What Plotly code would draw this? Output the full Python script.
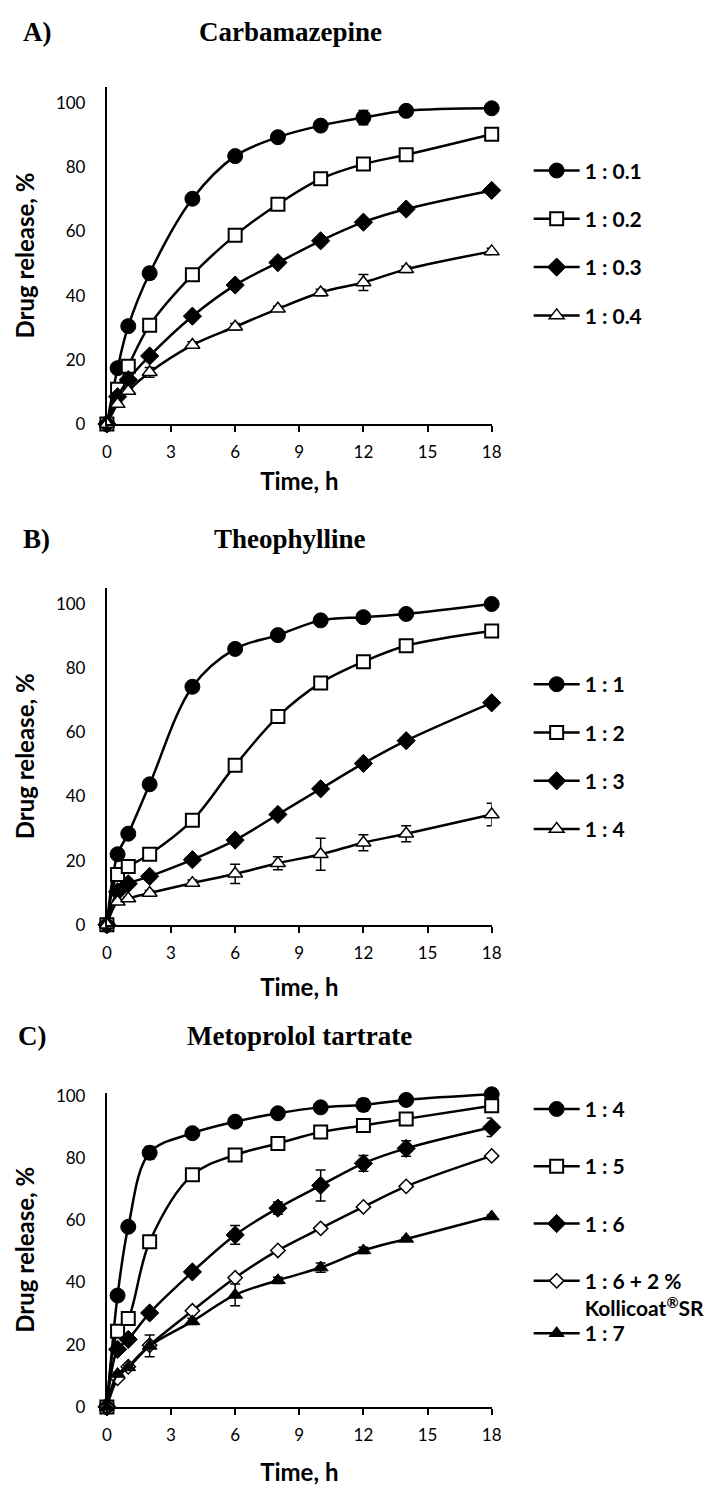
# ============================================================================
# DRUG RELEASE PROFILES - CARBAMAZEPINE / THEOPHYLLINE / METOPROLOL TARTRATE
# ============================================================================

import plotly.graph_objects as go
from plotly.subplots import make_subplots

# Sampling times (h)
time_h = [0, 0.5, 1, 2, 4, 6, 8, 10, 12, 14, 18]

# A) Carbamazepine
cbz_names = ['1 : 0.1', '1 : 0.2', '1 : 0.3', '1 : 0.4']
cbz_01 = [0, 17.4, 30.5, 47.0, 70.2, 83.5, 89.4, 93.0, 95.5, 97.6, 98.4]
cbz_02 = [0, 10.8, 18.0, 30.8, 46.5, 58.8, 68.5, 76.4, 81.0, 83.9, 90.3]
cbz_03 = [0, 8.5, 13.8, 21.2, 33.6, 43.3, 50.3, 57.1, 62.9, 67.0, 72.8]
cbz_04 = [0, 6.2, 10.3, 16.1, 24.6, 30.3, 35.9, 41.0, 44.1, 48.2, 53.8]
cbz_01_err = [0, 0.5, 0.5, 1.8, 0.6, 0.5, 0.5, 0.5, 2.2, 0.5, 0.5]
cbz_02_err = [0, 0.5, 0.5, 0.5, 0.5, 0.5, 0.5, 0.5, 0.5, 0.5, 0.5]
cbz_03_err = [0, 0.5, 0.5, 0.5, 0.5, 0.5, 0.5, 0.5, 0.8, 0.5, 0.5]
cbz_04_err = [0, 0.5, 0.8, 1.5, 1.0, 1.0, 0.8, 1.0, 2.5, 1.0, 1.0]

# B) Theophylline
the_names = ['1 : 1', '1 : 2', '1 : 3', '1 : 4']
the_1 = [0, 22.0, 28.4, 43.8, 74.2, 86.0, 90.3, 94.9, 95.9, 96.9, 100.0]
the_2 = [0, 15.7, 18.2, 22.0, 32.6, 49.7, 64.9, 75.4, 82.0, 87.0, 91.6]
the_3 = [0, 10.3, 12.8, 15.1, 20.3, 26.4, 34.4, 42.4, 50.3, 57.4, 69.2]
the_4 = [0, 7.2, 8.2, 9.9, 13.0, 15.9, 19.2, 22.0, 25.6, 28.4, 34.4]
the_1_err = [0, 0.5, 0.5, 0.5, 0.5, 0.5, 0.5, 0.5, 0.5, 0.5, 0.5]
the_2_err = [0, 0.5, 0.5, 0.5, 0.5, 0.5, 0.5, 0.5, 0.5, 0.5, 0.5]
the_3_err = [0, 0.5, 0.5, 0.5, 0.5, 0.5, 0.5, 0.5, 0.5, 0.5, 0.5]
the_4_err = [0, 0.5, 0.5, 0.8, 1.0, 3.0, 2.0, 5.0, 2.5, 2.5, 3.5]

# C) Metoprolol tartrate
met_names = ['1 : 4', '1 : 5', '1 : 6', '1 : 6 + 2 %<br>Kollicoat<sup>®</sup>SR', '1 : 7']
met_4 = [0, 35.8, 57.9, 81.7, 88.0, 91.7, 94.4, 96.3, 97.1, 98.7, 100.5]
met_5 = [0, 24.3, 28.4, 53.1, 74.6, 81.0, 84.7, 88.4, 90.5, 92.6, 96.8]
met_6 = [0, 18.5, 21.7, 30.2, 43.4, 55.3, 63.9, 71.2, 78.3, 83.1, 89.9]
met_6k = [0, 9.2, 12.9, 19.8, 30.9, 41.5, 50.3, 57.4, 64.3, 70.9, 80.7]
met_7 = [0, 10.6, 12.7, 19.6, 27.5, 36.0, 40.7, 44.8, 50.3, 54.0, 61.2]
met_4_err = [0, 0.5, 0.5, 2.0, 0.5, 0.5, 0.5, 0.5, 2.0, 0.5, 0.5]
met_5_err = [0, 0.5, 0.5, 0.5, 0.5, 0.5, 0.5, 0.5, 0.5, 0.5, 0.5]
met_6_err = [0, 0.5, 0.5, 0.8, 0.8, 3.0, 2.0, 5.0, 2.5, 2.5, 3.0]
met_6k_err = [0, 0.5, 0.5, 0.5, 0.5, 0.5, 0.5, 0.5, 0.5, 0.5, 0.5]
met_7_err = [0, 0.5, 0.5, 3.5, 1.0, 3.5, 1.0, 1.5, 1.0, 0.5, 0.5]

# ----------------------------------------------------------------------------
# Marker styles (Excel-like)
# ----------------------------------------------------------------------------
FILLED_CIRCLE = dict(symbol='circle', size=15, color='black', line=dict(color='black', width=1))
OPEN_SQUARE = dict(symbol='square', size=13, color='white', line=dict(color='black', width=2))
FILLED_DIAMOND = dict(symbol='diamond', size=14, color='black', line=dict(color='black', width=1))
OPEN_TRIANGLE = dict(symbol='triangle-up', size=13, color='white', line=dict(color='black', width=1.5))
OPEN_DIAMOND = dict(symbol='diamond', size=11, color='white', line=dict(color='black', width=1.5))
FILLED_TRIANGLE = dict(symbol='triangle-up', size=13, color='black', line=dict(color='black', width=1))

TICK_FONT = dict(family='Lato, Open Sans, sans-serif', size=17, color='black')
TITLE_FONT = dict(family='Lato, Open Sans, sans-serif', size=24, color='black')
LEGEND_FONT = dict(family='Lato, Open Sans, sans-serif', size=21, color='black')
HEAD_FONT = dict(family='Liberation Serif, Times New Roman, serif', size=27, color='black')

# page is 718 x 1497; the html body keeps an 8 px margin round the figure
PAGE_W, PAGE_H, PAD = 718, 1497, 8
W, H = PAGE_W - 2 * PAD, PAGE_H - 2 * PAD


def px_x(p):
    return (p - PAD) / W


def px_y(p):
    return 1 - (p - PAD) / H


fig = make_subplots(rows=3, cols=1)


def add_series(y, err, name, marker, row, legend):
    fig.add_trace(go.Scatter(
        x=time_h,
        y=y,
        mode='lines+markers',
        name='<b>' + name + '</b>',
        line=dict(color='black', width=2.5, shape='spline', smoothing=1),
        marker=marker,
        error_y=dict(type='data', array=err, color='black', thickness=1.5, width=5),
        legend=legend,
        legendgroup=name,
        cliponaxis=False,
    ), row=row, col=1)


# Panel A
add_series(cbz_01, cbz_01_err, cbz_names[0], FILLED_CIRCLE, 1, 'legend')
add_series(cbz_02, cbz_02_err, cbz_names[1], OPEN_SQUARE, 1, 'legend')
add_series(cbz_03, cbz_03_err, cbz_names[2], FILLED_DIAMOND, 1, 'legend')
add_series(cbz_04, cbz_04_err, cbz_names[3], OPEN_TRIANGLE, 1, 'legend')

# Panel B
add_series(the_1, the_1_err, the_names[0], FILLED_CIRCLE, 2, 'legend2')
add_series(the_2, the_2_err, the_names[1], OPEN_SQUARE, 2, 'legend2')
add_series(the_3, the_3_err, the_names[2], FILLED_DIAMOND, 2, 'legend2')
add_series(the_4, the_4_err, the_names[3], OPEN_TRIANGLE, 2, 'legend2')

# Panel C
add_series(met_4, met_4_err, met_names[0], FILLED_CIRCLE, 3, 'legend3')
add_series(met_5, met_5_err, met_names[1], OPEN_SQUARE, 3, 'legend3')
add_series(met_6, met_6_err, met_names[2], FILLED_DIAMOND, 3, 'legend3')
add_series(met_6k, met_6k_err, met_names[3], OPEN_DIAMOND, 3, 'legend3')
add_series(met_7, met_7_err, met_names[4], FILLED_TRIANGLE, 3, 'legend4')

# ----------------------------------------------------------------------------
# Axes
# ----------------------------------------------------------------------------
x_dom = [px_x(104.5), px_x(500)]
y_doms = [
    [px_y(421), px_y(80)],
    [px_y(928), px_y(587)],
    [px_y(1416), px_y(1098)],
]
y_ranges = [[0, 105], [0, 105], [0, 101]]
x_standoff = [12, 17, 20]

for i in range(3):
    fig.update_xaxes(
        domain=x_dom, range=[0, 18], tickmode='array', tickvals=[0, 3, 6, 9, 12, 15, 18],
        showline=True, linecolor='black', linewidth=2, showgrid=False, zeroline=False,
        ticks='outside', ticklen=6, tickwidth=2, tickcolor='black',
        tickfont=TICK_FONT, ticklabelstandoff=6,
        title=dict(text='<b>Time, h</b>', font=TITLE_FONT, standoff=x_standoff[i]),
        row=i + 1, col=1)
    fig.update_yaxes(
        domain=y_doms[i], range=y_ranges[i], tickmode='array', tickvals=[0, 20, 40, 60, 80, 100],
        showline=True, linecolor='black', linewidth=2, showgrid=False, zeroline=False,
        ticks='', tickfont=TICK_FONT, ticklabelstandoff=16,
        title=dict(text='<b>Drug release, %</b>', font=TITLE_FONT, standoff=14),
        row=i + 1, col=1)

# ----------------------------------------------------------------------------
# Panel headings
# ----------------------------------------------------------------------------
headings = [('A)', 'Carbamazepine', 24, 293, 16),
            ('B)', 'Theophylline', 537, 293, 16),
            ('C)', 'Metoprolol tartrate', 1041, 302, 11)]
for tag, name, py, cx, lx in headings:
    fig.add_annotation(text='<b>' + tag + '</b>', x=px_x(lx), y=px_y(py), xref='paper', yref='paper',
                       xanchor='left', yanchor='middle', showarrow=False, font=HEAD_FONT)
    fig.add_annotation(text='<b>' + name + '</b>', x=px_x(cx), y=px_y(py), xref='paper', yref='paper',
                       xanchor='center', yanchor='middle', showarrow=False, font=HEAD_FONT)


# ----------------------------------------------------------------------------
# Legends
# ----------------------------------------------------------------------------
def legend_box(top_px, gap):
    return dict(x=px_x(538), y=px_y(top_px), xanchor='left', yanchor='top',
                font=LEGEND_FONT, bgcolor='rgba(0,0,0,0)', borderwidth=0,
                tracegroupgap=gap, itemwidth=46, valign='top')


fig.update_layout(
    width=W, height=H,
    margin=dict(l=0, r=0, t=0, b=0),
    plot_bgcolor='white', paper_bgcolor='white',
    showlegend=True,
    legend=legend_box(144, 18),
    legend2=legend_box(664, 18),
    legend3=legend_box(1094, 27),
    legend4=legend_box(1321, 0),
)

fig.write_html("out.html")
